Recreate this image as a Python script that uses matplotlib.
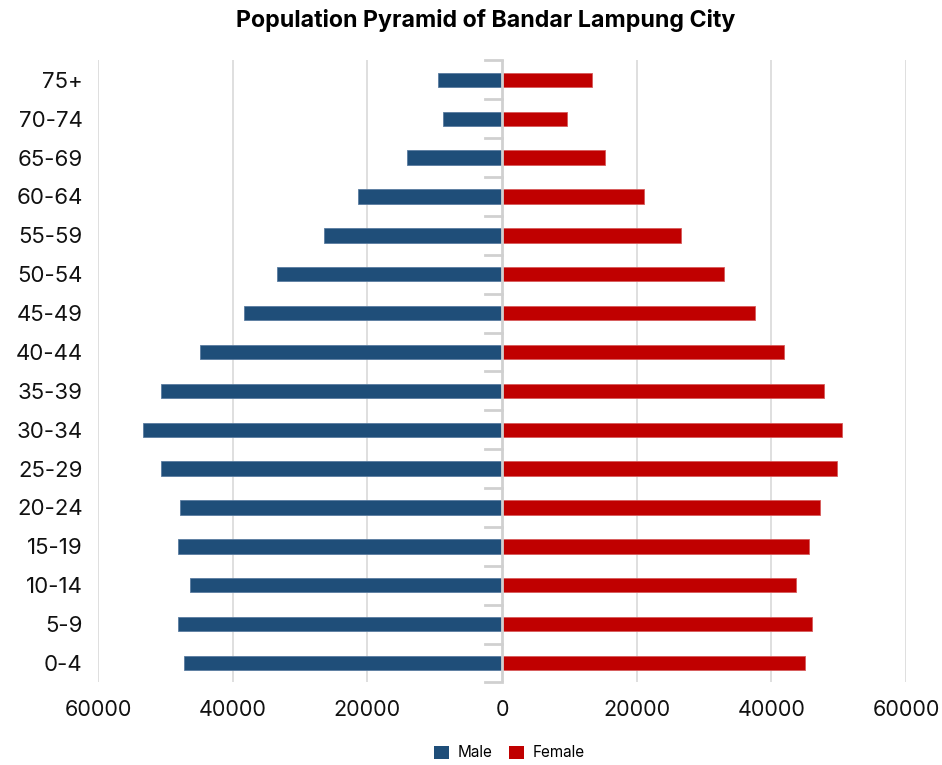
import matplotlib
matplotlib.use("Agg")
import matplotlib.pyplot as plt
from matplotlib.ticker import FuncFormatter
from matplotlib.patches import Patch

plt.rcParams['font.family'] = ['Inter', 'DejaVu Sans']

age_groups = ["0-4", "5-9", "10-14", "15-19", "20-24", "25-29", "30-34", "35-39",
              "40-44", "45-49", "50-54", "55-59", "60-64", "65-69", "70-74", "75+"]
male = [47200, 48100, 46300, 48100, 47800, 50650, 53300, 50650,
        44850, 38300, 33400, 26400, 21400, 14100, 8700, 9500]
female = [45000, 46000, 43650, 45600, 47200, 49750, 50500, 47800,
          41900, 37600, 33000, 26600, 21100, 15300, 9700, 13400]
x_ticks = [-60000, -40000, -20000, 0, 20000, 40000, 60000]

male_color = "#1f4e79"
female_color = "#c00000"

fig = plt.figure(figsize=(9.42, 7.65), dpi=100)
ax = fig.add_axes([0.104, 0.108, 0.858, 0.813])

y = list(range(len(age_groups)))
h = 0.37
ax.barh(y, [-m for m in male], height=h, color=male_color, edgecolor="#5a7ca0",
        linewidth=0.6, zorder=3)
ax.barh(y, female, height=h, color=female_color, edgecolor="#d65a5a",
        linewidth=0.6, zorder=3)

ax.set_xlim(-60000, 60000)
ax.set_ylim(-0.5, len(age_groups) - 0.5)
ax.set_xticks(x_ticks)
ax.xaxis.set_major_formatter(FuncFormatter(lambda v, p: f"{abs(int(v))}"))
ax.set_yticks(y)
ax.set_yticklabels(age_groups)
ax.tick_params(axis='both', length=0, labelsize=16, colors="#111111")
ax.tick_params(axis='x', pad=13)
ax.tick_params(axis='y', pad=11)
for lbl in ax.get_xticklabels():
    lbl.set_fontsize(15.5)

for v in x_ticks:
    if v != 0:
        ax.axvline(v, color="#d9d9d9", lw=1.2, zorder=1)
ax.axvline(0, color="#d0d0d0", lw=2, zorder=4)
# category boundary ticks
for b in range(len(age_groups) + 1):
    yb = b - 0.5
    ax.plot([-2600, 0], [yb, yb], color="#d0d0d0", lw=2, zorder=4, clip_on=False)

for s in ax.spines.values():
    s.set_visible(False)

fig.suptitle("Population Pyramid of Bandar Lampung City", fontsize=16.7,
             fontweight="bold", x=0.5155, y=0.988)

handles = [Patch(facecolor=male_color, label="Male"),
           Patch(facecolor=female_color, label="Female")]
fig.legend(handles=handles, loc="lower center", bbox_to_anchor=(0.541, -0.012),
           ncol=2, frameon=False, fontsize=11, handlelength=0.95,
           handleheight=0.95, handletextpad=0.6, columnspacing=1.1)

fig.savefig("out.png", dpi=100)
